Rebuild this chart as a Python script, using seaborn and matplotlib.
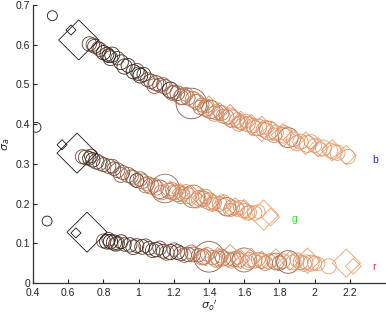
import numpy as np
import pandas as pd
import matplotlib
matplotlib.use("Agg")
import matplotlib.pyplot as plt
from matplotlib.colors import LinearSegmentedColormap
from matplotlib.ticker import FormatStrFormatter
import seaborn as sns

# band b (top) - circles
b_cx = [0.72,0.74,0.75,0.77,0.80,0.82,0.83,0.85,0.90,0.94,0.97,1.00,1.01,1.03,1.07,1.10,1.12,1.15,1.18,1.20,
        1.22,1.25,1.28,1.30,1.33,1.36,1.38,1.41,1.44,1.47,1.50,1.53,1.56,1.58,1.62,1.65,1.68,1.71,1.74,1.78,
        1.82,1.85,1.88,1.92,1.96,2.00,2.05,2.09,2.13,2.19,
        0.78,0.84,0.88,0.92,0.99,1.05,1.09,1.14,1.19,1.24,1.27,1.31,1.35,1.39,1.43,1.48,1.52,1.57,1.61,1.66,
        1.72,1.77,1.83,1.90,1.98,2.03,2.11]
b_cy = [0.602,0.600,0.596,0.592,0.580,0.576,0.572,0.575,0.556,0.548,0.532,0.527,0.522,0.525,0.508,0.503,0.498,0.494,0.486,0.480,
        0.478,0.470,0.466,0.452,0.456,0.448,0.440,0.437,0.430,0.428,0.418,0.414,0.410,0.404,0.400,0.396,0.392,0.386,0.384,0.378,
        0.372,0.366,0.362,0.356,0.350,0.346,0.340,0.334,0.328,0.318,
        0.588,0.566,0.566,0.545,0.535,0.512,0.496,0.500,0.478,0.468,0.475,0.462,0.442,0.446,0.426,0.420,0.420,0.400,0.408,0.390,
        0.392,0.372,0.378,0.352,0.356,0.336,0.330]
b_cw = [1.4,1.2,1.3,1.0,1.4,1.3,1.2,1.6,1.5,1.3,1.4,1.2,1.5,1.3,1.4,1.6,1.3,1.5,1.8,1.4,
        1.5,2.0,1.4,7.5,1.6,1.3,1.8,2.5,1.5,1.6,1.4,2.2,1.5,1.3,1.6,1.4,2.0,1.5,2.6,1.5,
        1.7,3.0,1.4,1.6,2.0,1.3,1.8,1.5,1.6,1.4,
        1.3,1.5,1.2,1.6,1.4,1.3,1.5,1.2,1.4,1.6,1.3,1.8,1.4,1.2,1.5,1.3,1.9,1.4,1.2,1.6,
        1.3,1.5,1.4,1.6,1.3,1.2,1.5]
b_cs = [0.25,0.30,0.20,0.35,0.05,0.10,0.00,0.15,0.10,0.10,0.05,0.20,0.00,0.15,0.30,0.35,0.40,0.45,0.05,0.40,
        0.45,0.50,0.55,0.45,0.60,0.60,0.70,0.55,0.70,0.65,0.75,0.70,0.80,0.75,0.80,0.85,0.80,0.85,0.70,0.85,
        0.85,0.45,0.90,0.85,0.90,0.90,0.90,0.95,0.90,0.95,
        0.30,0.20,0.25,0.15,0.30,0.35,0.45,0.50,0.55,0.60,0.65,0.70,0.65,0.75,0.80,0.75,0.85,0.80,0.90,0.85,
        0.90,0.85,0.90,0.95,0.90,0.95,0.95]
# band b - diamonds
b_dx = [1.32,1.40,1.46,1.52,1.58,1.64,1.70,1.76,1.82,1.88,1.95,2.02,2.10,2.18]
b_dy = [0.458,0.444,0.432,0.420,0.408,0.398,0.388,0.382,0.372,0.360,0.352,0.342,0.334,0.322]
b_dw = [1.2,1.6,1.0,2.0,1.3,1.5,2.4,1.2,2.0,1.5,1.8,1.2,1.6,1.3]
b_ds = [0.80,0.85,0.80,0.85,0.90,0.85,0.90,0.95,0.90,0.95,0.90,0.95,0.95,0.95]

# band g (middle)
g_cx = [0.68,0.70,0.72,0.74,0.76,0.80,0.83,0.86,0.88,0.91,0.94,0.97,0.99,1.02,1.05,1.07,1.10,1.12,1.15,1.17,
        1.20,1.22,1.25,1.28,1.31,1.34,1.37,1.40,1.43,1.46,1.50,1.53,1.56,1.60,1.63,1.66,
        0.73,0.78,0.85,0.90,0.96,1.01,1.04,1.09,1.13,1.19,1.24,1.27,1.33,1.38,1.42,1.48,1.52,1.58,1.62,1.68]
g_cy = [0.318,0.316,0.314,0.310,0.306,0.298,0.294,0.288,0.284,0.278,0.272,0.265,0.258,0.256,0.250,0.244,0.240,0.236,0.238,0.232,
        0.228,0.226,0.224,0.220,0.218,0.214,0.212,0.206,0.202,0.199,0.192,0.190,0.186,0.182,0.178,0.176,
        0.320,0.302,0.294,0.272,0.268,0.262,0.246,0.246,0.228,0.236,0.218,0.230,0.208,0.218,0.198,0.204,0.184,0.190,0.176,0.180]
g_cw = [1.3,1.5,1.2,1.4,1.6,1.3,1.4,1.2,1.5,1.3,1.6,1.4,1.3,1.5,1.4,1.8,1.5,2.5,6.5,1.6,
        1.5,2.0,1.4,1.8,4.0,1.5,1.6,2.0,1.4,1.5,2.5,1.6,1.4,1.5,1.3,1.4,
        1.2,1.4,1.3,1.5,1.2,1.4,1.6,1.3,1.5,1.2,1.4,1.3,1.6,1.4,1.3,1.5,1.2,1.4,1.3,1.2]
g_cs = [0.35,0.30,0.20,0.10,0.25,0.30,0.40,0.35,0.45,0.40,0.50,0.55,0.05,0.60,0.65,0.60,0.70,0.55,0.55,0.70,
        0.75,0.65,0.75,0.80,0.60,0.80,0.75,0.80,0.85,0.80,0.50,0.85,0.90,0.85,0.90,0.85,
        0.25,0.35,0.40,0.45,0.50,0.55,0.60,0.65,0.70,0.75,0.80,0.75,0.85,0.80,0.85,0.90,0.85,0.90,0.90,0.95]
g_dx = [1.18,1.24,1.30,1.36,1.42,1.48,1.55,1.60,1.71,1.75]
g_dy = [0.232,0.228,0.220,0.214,0.204,0.196,0.192,0.186,0.171,0.166]
g_dw = [1.2,1.0,1.5,1.2,1.0,1.4,1.0,1.2,3.5,1.0]
g_ds = [0.80,0.85,0.85,0.80,0.90,0.90,0.85,0.90,0.95,0.95]

# band r (bottom)
r_cx = [0.80,0.82,0.84,0.86,0.88,0.92,0.95,0.99,1.02,1.06,1.10,1.14,1.18,1.22,1.24,1.28,1.31,1.34,1.37,1.40,
        1.42,1.45,1.48,1.51,1.54,1.57,1.60,1.63,1.66,1.70,1.74,1.78,1.82,1.85,1.88,1.92,1.95,1.98,2.00,2.08,
        0.83,0.87,0.90,0.97,1.04,1.08,1.12,1.16,1.20,1.26,1.30,1.36,1.39,1.44,1.47,1.53,1.56,1.62,1.68,1.72,
        1.76,1.80,1.90,1.94,2.02]
r_cy = [0.106,0.104,0.104,0.102,0.100,0.097,0.096,0.094,0.091,0.088,0.084,0.080,0.078,0.078,0.074,0.072,0.072,0.070,0.066,0.066,
        0.064,0.062,0.062,0.060,0.060,0.058,0.058,0.058,0.056,0.056,0.054,0.054,0.055,0.053,0.052,0.052,0.053,0.050,0.050,0.042,
        0.110,0.098,0.104,0.090,0.094,0.082,0.088,0.076,0.084,0.070,0.078,0.064,0.072,0.058,0.068,0.056,0.064,0.052,0.060,0.050,
        0.058,0.050,0.058,0.048,0.048]
r_cw = [1.3,1.5,1.4,1.6,1.3,1.2,1.4,1.3,1.5,1.2,1.4,1.3,1.6,1.5,1.3,1.4,1.5,1.2,1.6,7.5,
        1.4,1.5,1.6,1.3,1.5,1.4,4.5,1.5,1.4,1.6,1.5,2.0,1.5,4.0,1.6,1.5,1.4,1.8,1.3,1.6,
        1.2,1.4,1.3,1.5,1.2,1.4,1.3,1.5,1.2,1.4,1.3,1.5,1.2,1.4,1.3,1.5,1.2,1.4,1.3,1.5,
        1.2,1.4,1.3,1.5,1.2]
r_cs = [0.40,0.10,0.00,0.15,0.30,0.25,0.20,0.15,0.25,0.20,0.10,0.20,0.05,0.10,0.35,0.40,0.50,0.55,0.60,0.45,
        0.65,0.70,0.60,0.70,0.75,0.70,0.55,0.80,0.75,0.80,0.85,0.60,0.80,0.45,0.85,0.80,0.90,0.85,0.90,0.95,
        0.20,0.30,0.10,0.25,0.30,0.35,0.40,0.45,0.50,0.55,0.60,0.65,0.70,0.75,0.70,0.80,0.75,0.80,0.85,0.80,
        0.85,0.55,0.85,0.90,0.95]
r_dx = [1.38,1.45,1.52,1.58,1.64,1.70,1.78,1.86,1.96,2.18,2.22]
r_dy = [0.066,0.064,0.070,0.060,0.062,0.058,0.060,0.056,0.056,0.050,0.042]
r_dw = [1.0,1.4,1.6,1.2,1.4,1.0,1.5,1.2,2.4,3.0,0.7]
r_ds = [0.80,0.85,0.80,0.85,0.90,0.85,0.90,0.90,0.90,0.95,0.95]

# black outliers at the left
o_cx = [0.51, 0.417, 0.48]
o_cy = [0.673, 0.392, 0.156]
o_dx = [0.616, 0.565, 0.644, 0.66, 0.65, 0.707]
o_dy = [0.637, 0.348, 0.126, 0.612, 0.327, 0.128]
o_dw = [0.1, 0.1, 0.1, 6.4, 6.4, 6.4]

band_names = ["b", "g", "r"]
band_text_x = [2.33, 1.87, 2.33]
band_text_y = [0.31, 0.16, 0.04]

circles = pd.DataFrame({
    "x": b_cx + g_cx + r_cx + o_cx,
    "y": b_cy + g_cy + r_cy + o_cy,
    "w": b_cw + g_cw + r_cw + [0.5] * len(o_cx),
    "shade": b_cs + g_cs + r_cs + [0.0] * len(o_cx),
})
diamonds = pd.DataFrame({
    "x": b_dx + g_dx + r_dx + o_dx,
    "y": b_dy + g_dy + r_dy + o_dy,
    "w": b_dw + g_dw + r_dw + o_dw,
    "shade": b_ds + g_ds + r_ds + [0.0] * len(o_dx),
})

sns.set_style("ticks")
plt.rcParams["font.family"] = ["Liberation Sans", "DejaVu Sans"]

cmap = LinearSegmentedColormap.from_list(
    "brown_orange", ["#1c1410", "#6e4535", "#c27a55", "#f2a674"])

fig = plt.figure(figsize=(3.86, 3.14), dpi=100)
ax = fig.add_axes([33 / 386, 31 / 314, 353 / 386, 278 / 314])

for df, mk in [(circles, "o"), (diamonds, "D")]:
    sns.scatterplot(data=df, x="x", y="y", hue="shade", size="w", palette=cmap,
                    hue_norm=(0, 1), sizes=(20, 640), size_norm=(0, 10),
                    marker=mk, linewidth=0.6, legend=False, ax=ax)
    # make markers hollow: edge takes the hue colour
    coll = ax.collections[-1]
    fc = coll.get_facecolors()
    coll.set_edgecolors(fc)
    coll.set_facecolors("none")

for name, tx, ty, c in zip(band_names, band_text_x, band_text_y, ["#2626c8", "#2ee02e", "#d0304c"]):
    ax.text(tx, ty, name, color=c, fontsize=7.5, ha="left", va="center")

ax.set_xlim(0.4, 0.4 + 353 / 176)
ax.set_ylim(0, 0.7)
ax.set_xticks(np.arange(0.4, 2.21, 0.2))
ax.set_yticks(np.arange(0, 0.71, 0.1))
ax.xaxis.set_major_formatter(FormatStrFormatter("%g"))
ax.yaxis.set_major_formatter(FormatStrFormatter("%g"))
ax.tick_params(direction="in", length=3, width=0.8, labelsize=7.5, colors="#222222")
ax.tick_params(axis="x", pad=3.5)
ax.tick_params(axis="y", pad=2)
sns.despine(ax=ax)
for sp in ["left", "bottom"]:
    ax.spines[sp].set_color("#333333")
    ax.spines[sp].set_linewidth(0.9)

ax.set_xlabel(r"$\sigma_o{}'$", fontsize=8, labelpad=0)
ax.set_ylabel(r"$\sigma_a$", fontsize=8, labelpad=3)

fig.savefig("out.png", dpi=100)
